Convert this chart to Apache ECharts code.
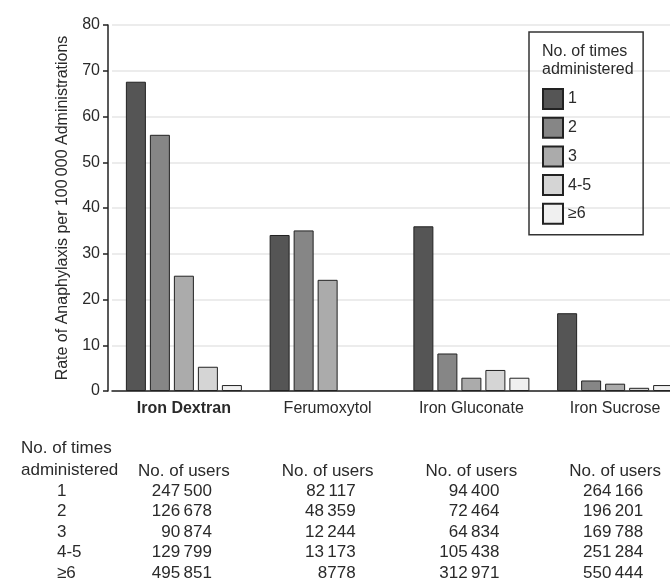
<!DOCTYPE html>
<html>
<head>
<meta charset="utf-8">
<script src="https://cdn.jsdelivr.net/npm/echarts@6/dist/echarts.min.js"></script>
<style>
  html, body { margin: 0; padding: 0; background: #fff; }
  #chart { width: 670px; height: 584px; }
</style>
</head>
<body>
<div id="chart"></div>
<script>
// iron formulations on the x axis
const drugs = ['Iron Dextran', 'Ferumoxytol', 'Iron Gluconate', 'Iron Sucrose']
// number of times administered (legend / table rows)
const doseGroups = ['1', '2', '3', '4-5', '≥6']
const doseColors = ['#555555', '#868686', '#ababab', '#d5d5d5', '#f0f0f0']

// rate of anaphylaxis per 100 000 administrations, one array per dose group (by drug)
const rateDose1 = [67.6, 34.1, 36.0, 17.0]
const rateDose2 = [56.0, 35.1, 8.2, 2.3]
const rateDose3 = [25.2, 24.3, 2.9, 1.6]
const rateDose4to5 = [5.3, '-', 4.6, 0.7]
const rateDose6plus = [1.3, '-', 2.9, 1.3]
const rates = [rateDose1, rateDose2, rateDose3, rateDose4to5, rateDose6plus]

// number of users, one array per drug (by dose group)
const usersIronDextran = [247500, 126678, 90874, 129799, 495851]
const usersFerumoxytol = [82117, 48359, 12244, 13173, 8778]
const usersIronGluconate = [94400, 72464, 64834, 105438, 312971]
const usersIronSucrose = [264166, 196201, 169788, 251284, 550444]
const users = [usersIronDextran, usersFerumoxytol, usersIronGluconate, usersIronSucrose]

const yTicks = [0, 10, 20, 30, 40, 50, 60, 70, 80]

const FONT = '"Liberation Sans", Arial, sans-serif'
const TEXT = '#2a2a2a'

const chart = echarts.init(document.getElementById('chart'), null, { renderer: 'canvas' })

// 万位加窄空格
function fmt (n) {
  const s = String(n)
  return n >= 10000 ? s.slice(0, s.length - 3) + '\u2009' + s.slice(-3) : s
}

const option = {
  animation: false,
  textStyle: { fontFamily: FONT },
  title: {
    text: 'No. of times\nadministered',
    left: 542,
    top: 42,
    padding: 0,
    textStyle: { fontFamily: FONT, fontSize: 16, fontWeight: 'normal', color: TEXT, lineHeight: 18.5 }
  },
  legend: {
    orient: 'vertical',
    left: 529,
    top: 32,
    padding: [56, 52, 10, 13],
    icon: 'rect',
    itemWidth: 20,
    itemHeight: 20,
    itemGap: 6.7,
    borderColor: '#333',
    borderWidth: 1.5,
    textStyle: { fontFamily: FONT, fontSize: 16, color: TEXT },
    data: doseGroups
  },
  grid: {
    left: 112,
    top: 25,
    width: 575,
    bottom: 193,
    outerBoundsMode: 'none',
    containLabel: false
  },
  xAxis: {
    type: 'category',
    data: drugs.map((d, i) => i === 0 ? { value: d, textStyle: { fontWeight: 'bold' } } : d),
    axisLine: { lineStyle: { color: '#222', width: 1.5 } },
    axisTick: { show: false },
    axisLabel: { fontFamily: FONT, fontSize: 16, color: TEXT, margin: 10 }
  },
  yAxis: {
    type: 'value',
    min: yTicks[0],
    max: yTicks[yTicks.length - 1],
    interval: 10,
    offset: 4,
    name: 'Rate of Anaphylaxis per 100\u2009000 Administrations',
    nameLocation: 'middle',
    nameGap: 37,
    nameTextStyle: { fontFamily: FONT, fontSize: 16, color: TEXT },
    axisLine: { show: true, lineStyle: { color: '#222', width: 1.5 } },
    axisTick: { show: true, length: 5, lineStyle: { color: '#222', width: 1.5 } },
    axisLabel: { fontFamily: FONT, fontSize: 16, color: TEXT, margin: 8 },
    splitLine: { lineStyle: { color: '#e6e6e6', width: 1.5 } }
  },
  series: doseGroups.map((g, i) => ({
    name: g,
    type: 'bar',
    data: rates[i],
    barWidth: 20,
    barGap: '20%',
    itemStyle: { color: doseColors[i], borderColor: '#222', borderWidth: 1 }
  }))
}
chart.setOption(option)

// 表格：列位置跟随x轴类目
const rowTop = 491
const rowStep = 20.5
const graphic = [
  { type: 'text', left: 21, top: 449 - 9, style: { text: 'No. of times', font: '17px ' + FONT, fill: TEXT } },
  { type: 'text', left: 21, top: 471 - 9, style: { text: 'administered', font: '17px ' + FONT, fill: TEXT } }
]
doseGroups.forEach((g, r) => {
  graphic.push({
    type: 'text', x: 57, y: rowTop + r * rowStep,
    style: { text: g, font: '17px ' + FONT, fill: TEXT, verticalAlign: 'middle' }
  })
})
drugs.forEach((d, c) => {
  const cx = chart.convertToPixel({ xAxisIndex: 0 }, d)
  graphic.push({
    type: 'text', x: cx, y: 471,
    style: { text: 'No. of users', font: '17px ' + FONT, fill: TEXT, align: 'center', verticalAlign: 'middle' }
  })
  users[c].forEach((u, r) => {
    graphic.push({
      type: 'text', x: cx + 28, y: rowTop + r * rowStep,
      style: { text: fmt(u), font: '17px ' + FONT, fill: TEXT, align: 'right', verticalAlign: 'middle' }
    })
  })
})
chart.setOption({ graphic: graphic })
</script>
</body>
</html>
